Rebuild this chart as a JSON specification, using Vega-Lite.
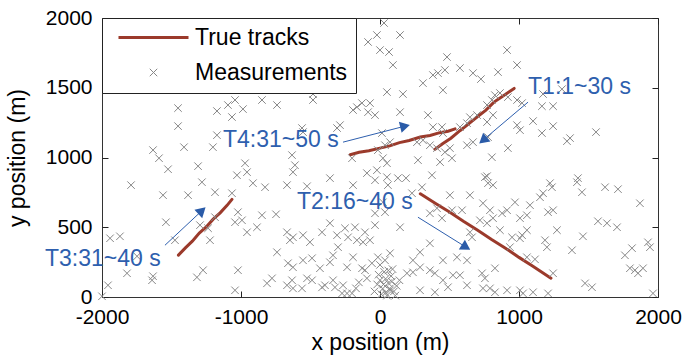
{
  "$schema": "https://vega.github.io/schema/vega-lite/v6.json",
  "width": 556,
  "height": 279,
  "autosize": {"type": "none"},
  "padding": {"left": 102, "top": 18, "right": 26, "bottom": 61},
  "background": "white",
  "config": {
    "font": "Liberation Sans",
    "view": {"stroke": "#333333", "strokeWidth": 1},
    "axis": {
      "grid": false, "domain": false, "ticks": true, "tickColor": "#222222", "tickSize": -6, "tickWidth": 1, "zindex": 1,
      "labelFontSize": 21, "labelColor": "black", "labelFont": "Liberation Sans", "labelFlush": false,
      "titleFontSize": 23, "titleFontWeight": "normal", "titleColor": "black", "titleFont": "Liberation Sans"
    }
  },
  "datasets": {
    "meas": [
      {"x":-1187,"y":1490},{"x":-986,"y":1490},{"x":-489,"y":1483},{"x":-482,"y":1455},{"x":-1453,"y":1354},{"x":-1453,"y":1225},
      {"x":-1173,"y":1333},{"x":-1094,"y":1376},{"x":-1043,"y":1412},{"x":-1065,"y":1290},{"x":-986,"y":1347},{"x":-849,"y":1412},
      {"x":-741,"y":1376},{"x":-482,"y":1412},{"x":-194,"y":1340},{"x":-166,"y":1361},{"x":-1633,"y":1053},{"x":-1590,"y":995},
      {"x":-1525,"y":916},{"x":-1410,"y":1074},{"x":-1309,"y":938},{"x":-1202,"y":1074},{"x":-1173,"y":1160},{"x":-971,"y":959},
      {"x":-957,"y":895},{"x":-1029,"y":873},{"x":-633,"y":1017},{"x":-612,"y":945},{"x":-626,"y":895},{"x":-561,"y":1211},
      {"x":-554,"y":1182},{"x":-309,"y":1211},{"x":-360,"y":852},{"x":-201,"y":995},{"x":-1791,"y":802},{"x":-1561,"y":730},
      {"x":-1381,"y":730},{"x":-1281,"y":823},{"x":-1187,"y":751},{"x":-1065,"y":744},{"x":-1540,"y":536},{"x":-1942,"y":421},
      {"x":-1871,"y":435},{"x":-1475,"y":407},{"x":-1295,"y":515},{"x":-1237,"y":493},{"x":-1187,"y":572},{"x":-1223,"y":407},
      {"x":-1022,"y":608},{"x":-1043,"y":536},{"x":-993,"y":550},{"x":-1748,"y":292},{"x":-1820,"y":170},{"x":-1957,"y":84},
      {"x":-1633,"y":149},{"x":-1640,"y":120},{"x":-1273,"y":192},{"x":-1317,"y":141},{"x":-1022,"y":192},{"x":-1043,"y":48},
      {"x":-2000,"y":5},{"x":-914,"y":816},{"x":-827,"y":787},{"x":-669,"y":802},{"x":-525,"y":794},{"x":-194,"y":802},
      {"x":-957,"y":464},{"x":-885,"y":500},{"x":-748,"y":593},{"x":-669,"y":464},{"x":-648,"y":407},{"x":-626,"y":428},
      {"x":-554,"y":443},{"x":-504,"y":393},{"x":-417,"y":464},{"x":-360,"y":529},{"x":-252,"y":493},{"x":-230,"y":428},
      {"x":-741,"y":321},{"x":-662,"y":242},{"x":-626,"y":213},{"x":-554,"y":263},{"x":-489,"y":278},{"x":-432,"y":206},
      {"x":-360,"y":249},{"x":-338,"y":299},{"x":-194,"y":285},{"x":-237,"y":213},{"x":-813,"y":98},{"x":-669,"y":84},
      {"x":-633,"y":120},{"x":-561,"y":62},{"x":-489,"y":120},{"x":-417,"y":69},{"x":-396,"y":84},{"x":-338,"y":120},
      {"x":-266,"y":84},{"x":-237,"y":26},{"x":-849,"y":586},{"x":-309,"y":443},{"x":-180,"y":500},{"x":-166,"y":407},
      {"x":-122,"y":393},{"x":-72,"y":407},{"x":-36,"y":515},{"x":-36,"y":600},{"x":-302,"y":357},{"x":-129,"y":206},
      {"x":-108,"y":192},{"x":-15,"y":285},{"x":-58,"y":242},{"x":-777,"y":134},{"x":-525,"y":134},{"x":-626,"y":62},
      {"x":-324,"y":69},{"x":-152,"y":105},{"x":-173,"y":62},{"x":-94,"y":134},{"x":-273,"y":26},{"x":-201,"y":26},
      {"x":-94,"y":888},{"x":-36,"y":837},{"x":-22,"y":909},{"x":-22,"y":1878},{"x":-86,"y":1828},{"x":0,"y":1770},
      {"x":29,"y":1964},{"x":144,"y":1878},{"x":65,"y":1756},{"x":93,"y":1663},{"x":482,"y":1720},{"x":575,"y":1641},
      {"x":381,"y":1591},{"x":417,"y":1605},{"x":467,"y":1627},{"x":309,"y":1533},{"x":453,"y":1483},{"x":669,"y":1605},
      {"x":726,"y":1562},{"x":849,"y":1612},{"x":914,"y":1770},{"x":986,"y":1663},{"x":50,"y":1469},{"x":165,"y":1455},
      {"x":144,"y":1325},{"x":345,"y":1304},{"x":381,"y":1218},{"x":446,"y":1218},{"x":453,"y":1175},{"x":309,"y":1124},
      {"x":359,"y":1088},{"x":72,"y":1110},{"x":36,"y":1088},{"x":575,"y":1218},{"x":626,"y":1246},{"x":647,"y":1289},
      {"x":698,"y":1304},{"x":770,"y":1376},{"x":805,"y":1412},{"x":827,"y":1447},{"x":863,"y":1462},{"x":920,"y":1433},
      {"x":986,"y":1412},{"x":813,"y":1304},{"x":770,"y":1254},{"x":626,"y":1088},{"x":669,"y":1110},{"x":503,"y":1067},
      {"x":467,"y":1038},{"x":410,"y":1067},{"x":266,"y":1110},{"x":21,"y":995},{"x":50,"y":959},{"x":273,"y":981},
      {"x":432,"y":967},{"x":518,"y":995},{"x":805,"y":1002},{"x":920,"y":1067},{"x":986,"y":1232},{"x":1007,"y":1196},
      {"x":777,"y":1146},{"x":-130,"y":1390},{"x":-72,"y":1390},{"x":-86,"y":1325},{"x":-36,"y":1304},{"x":14,"y":1175},
      {"x":-15,"y":1053},{"x":-288,"y":1232},{"x":50,"y":859},{"x":129,"y":852},{"x":187,"y":852},{"x":374,"y":873},
      {"x":770,"y":866},{"x":1424,"y":852},{"x":1022,"y":1390},{"x":1173,"y":1455},{"x":1309,"y":1490},{"x":1165,"y":1368},
      {"x":1245,"y":1368},{"x":1101,"y":1261},{"x":1165,"y":1175},{"x":1245,"y":1225},{"x":1345,"y":1117},{"x":1367,"y":1139},
      {"x":1554,"y":1182},{"x":57,"y":802},{"x":230,"y":744},{"x":302,"y":787},{"x":755,"y":859},{"x":813,"y":802},
      {"x":777,"y":816},{"x":647,"y":730},{"x":503,"y":730},{"x":21,"y":679},{"x":36,"y":608},{"x":144,"y":500},
      {"x":359,"y":600},{"x":410,"y":636},{"x":446,"y":565},{"x":518,"y":622},{"x":590,"y":622},{"x":741,"y":672},
      {"x":791,"y":622},{"x":719,"y":550},{"x":770,"y":529},{"x":878,"y":600},{"x":914,"y":622},{"x":813,"y":565},
      {"x":863,"y":479},{"x":971,"y":679},{"x":647,"y":464},{"x":662,"y":428},{"x":950,"y":428},{"x":1007,"y":421},
      {"x":935,"y":357},{"x":359,"y":385},{"x":288,"y":321},{"x":72,"y":314},{"x":36,"y":263},{"x":237,"y":263},
      {"x":288,"y":213},{"x":453,"y":263},{"x":554,"y":285},{"x":626,"y":263},{"x":359,"y":192},{"x":395,"y":170},
      {"x":194,"y":170},{"x":237,"y":177},{"x":525,"y":156},{"x":575,"y":156},{"x":734,"y":170},{"x":755,"y":134},
      {"x":827,"y":206},{"x":453,"y":120},{"x":489,"y":70},{"x":395,"y":34},{"x":288,"y":48},{"x":72,"y":48},
      {"x":741,"y":62},{"x":791,"y":62},{"x":626,"y":84},{"x":827,"y":34},{"x":914,"y":48},{"x":1007,"y":48},
      {"x":-108,"y":464},
      {"x":0,"y":120},{"x":20,"y":60},{"x":40,"y":30},{"x":60,"y":100},{"x":80,"y":150},{"x":100,"y":40},
      {"x":30,"y":180},{"x":-20,"y":90},{"x":10,"y":20},{"x":50,"y":10},{"x":120,"y":80},{"x":90,"y":200},
      {"x":-40,"y":40},{"x":70,"y":60},{"x":140,"y":120},{"x":0,"y":230},{"x":40,"y":130},{"x":110,"y":10},
      {"x":-10,"y":160},{"x":60,"y":190},{"x":25,"y":90},{"x":85,"y":110},
      {"x":1223,"y":816},{"x":1237,"y":787},{"x":1173,"y":744},{"x":1417,"y":823},{"x":1453,"y":751},{"x":1619,"y":787},
      {"x":1712,"y":773},{"x":1870,"y":672},{"x":1079,"y":658},{"x":1057,"y":586},{"x":1209,"y":608},{"x":1245,"y":622},
      {"x":1568,"y":543},{"x":1633,"y":529},{"x":1705,"y":500},{"x":1273,"y":479},{"x":1057,"y":479},{"x":1022,"y":443},
      {"x":1460,"y":435},{"x":1187,"y":407},{"x":1201,"y":357},{"x":1381,"y":335},{"x":1928,"y":392},{"x":1942,"y":357},
      {"x":1813,"y":350},{"x":1762,"y":299},{"x":1057,"y":285},{"x":1115,"y":270},{"x":1245,"y":170},{"x":1798,"y":206},
      {"x":1834,"y":192},{"x":1856,"y":170},{"x":1892,"y":206},{"x":1475,"y":98},{"x":1525,"y":70},{"x":1029,"y":26},
      {"x":1101,"y":34},{"x":1209,"y":26},{"x":1964,"y":26},{"x":1151,"y":715},{"x":1007,"y":565}
    ],
    "tracks": [
      {"track":"T1","x":395,"y":1058},{"track":"T1","x":450,"y":1098},{"track":"T1","x":510,"y":1138},{"track":"T1","x":575,"y":1192},
      {"track":"T1","x":640,"y":1243},{"track":"T1","x":700,"y":1292},{"track":"T1","x":760,"y":1338},{"track":"T1","x":820,"y":1397},
      {"track":"T1","x":880,"y":1438},{"track":"T1","x":930,"y":1472},{"track":"T1","x":965,"y":1495},
      {"track":"T4","x":-215,"y":1020},{"track":"T4","x":-150,"y":1037},{"track":"T4","x":-80,"y":1048},{"track":"T4","x":0,"y":1067},
      {"track":"T4","x":70,"y":1083},{"track":"T4","x":140,"y":1107},{"track":"T4","x":210,"y":1122},{"track":"T4","x":290,"y":1147},
      {"track":"T4","x":360,"y":1158},{"track":"T4","x":430,"y":1178},{"track":"T4","x":490,"y":1188},{"track":"T4","x":540,"y":1205},
      {"track":"T2","x":290,"y":740},{"track":"T2","x":400,"y":670},{"track":"T2","x":500,"y":609},{"track":"T2","x":600,"y":543},
      {"track":"T2","x":700,"y":481},{"track":"T2","x":800,"y":414},{"track":"T2","x":900,"y":352},{"track":"T2","x":1000,"y":284},
      {"track":"T2","x":1100,"y":221},{"track":"T2","x":1230,"y":135},
      {"track":"T3","x":-1450,"y":300},{"track":"T3","x":-1400,"y":352},{"track":"T3","x":-1350,"y":400},{"track":"T3","x":-1300,"y":458},
      {"track":"T3","x":-1250,"y":502},{"track":"T3","x":-1200,"y":558},{"track":"T3","x":-1150,"y":603},{"track":"T3","x":-1100,"y":657},
      {"track":"T3","x":-1065,"y":700}
    ],
    "arrows": [
      {"x":1065,"y":1397,"x2":741,"y2":1124},
      {"x":-266,"y":1110,"x2":180,"y2":1225},
      {"x":273,"y":572,"x2":619,"y2":357},
      {"x":-1547,"y":371,"x2":-1281,"y2":619}
    ],
    "notes": [
      {"label":"T1:1~30 s","x":1065,"y":1505},
      {"label":"T4:31~50 s","x":-1130,"y":1124},
      {"label":"T2:16~40 s","x":-597,"y":680},
      {"label":"T3:31~40 s","x":-2410,"y":271}
    ]
  },
  "layer": [
    {
      "encoding": {
        "x": {"field": "x", "type": "quantitative", "scale": {"domain": [-2000, 2000], "nice": false, "zero": false},
              "axis": {"orient": "bottom", "labelPadding": 15, "values": [-2000, -1000, 0, 1000, 2000], "title": "x position (m)", "titlePadding": 4,
                       "labelExpr": "datum.value < 0 ? '-' + abs(datum.value) : '' + datum.value"}},
        "y": {"field": "y", "type": "quantitative", "scale": {"domain": [0, 2000], "nice": false, "zero": false},
              "axis": {"orient": "left", "labelPadding": 16, "values": [0, 500, 1000, 1500, 2000], "title": "y position (m)", "format": "d", "titlePadding": 16}}
      },
      "layer": [
        {
          "data": {"name": "tracks"},
          "mark": {"type": "line", "strokeWidth": 3, "strokeCap": "round"},
          "encoding": {
            "detail": {"field": "track"},
            "color": {
              "datum": "True tracks", "type": "nominal",
              "scale": {"domain": ["True tracks", "Measurements"], "range": ["#9b3a2b", "#878787"]},
              "legend": {
                "title": null, "orient": "top-left", "offset": 0, "fillColor": "white", "strokeColor": "#222222",
                "padding": 8, "rowPadding": 11, "labelFontSize": 23, "labelFont": "Liberation Sans", "labelColor": "black",
                "symbolSize": 196, "symbolOffset": 32, "labelOffset": 30, "zindex": 2,
                "encode": {
                  "symbols": {
                    "update": {
                      "shape": {"signal": "datum.value === 'True tracks' ? 'M-5,0L5,0' : 'M-1,-1L1,1M-1,1L1,-1'"},
                      "size": {"signal": "datum.value === 'True tracks' ? 196 : 56"},
                      "strokeWidth": {"signal": "datum.value === 'True tracks' ? 3 : 1"},
                      "fill": {"value": "transparent"},
                      "stroke": {"signal": "datum.value === 'True tracks' ? '#9b3a2b' : '#878787'"}
                    }
                  }
                }
              }
            }
          }
        },
        {
          "data": {"name": "meas"},
          "mark": {"type": "point", "shape": "M-1,-1L1,1M-1,1L1,-1", "filled": false, "size": 56, "strokeWidth": 1, "opacity": 1},
          "encoding": {"color": {"datum": "Measurements", "type": "nominal"}}
        },
        {
          "data": {"name": "arrows"},
          "mark": {"type": "rule", "color": "#2e5fae", "strokeWidth": 1},
          "encoding": {"x2": {"field": "x2"}, "y2": {"field": "y2"}}
        },
        {
          "data": {"values": [{"x": 741, "y": 1124}]},
          "mark": {"type": "point", "shape": "triangle-up", "filled": true, "size": 130, "angle": 230, "color": "#2a5ba8", "opacity": 1},
          "encoding": {}
        },
        {
          "data": {"values": [{"x": 180, "y": 1225}]},
          "mark": {"type": "point", "shape": "triangle-up", "filled": true, "size": 130, "angle": 76, "color": "#2a5ba8", "opacity": 1},
          "encoding": {}
        },
        {
          "data": {"values": [{"x": 619, "y": 357}]},
          "mark": {"type": "point", "shape": "triangle-up", "filled": true, "size": 130, "angle": 122, "color": "#2a5ba8", "opacity": 1},
          "encoding": {}
        },
        {
          "data": {"values": [{"x": -1281, "y": 619}]},
          "mark": {"type": "point", "shape": "triangle-up", "filled": true, "size": 130, "angle": 47, "color": "#2a5ba8", "opacity": 1},
          "encoding": {}
        },
        {
          "data": {"name": "notes"},
          "mark": {"type": "text", "align": "left", "baseline": "middle", "fontSize": 23, "font": "Liberation Sans", "color": "#2e5fae"},
          "encoding": {"text": {"field": "label"}}
        }
      ]
    },
    {
      "data": {"name": "notes"},
      "mark": {"type": "point", "opacity": 0},
      "encoding": {
        "x": {"field": "x", "type": "quantitative", "scale": {"domain": [-2000, 2000], "nice": false, "zero": false},
              "axis": {"orient": "top", "values": [-2000, -1000, 0, 1000, 2000], "labels": false, "title": null}},
        "y": {"field": "y", "type": "quantitative", "scale": {"domain": [0, 2000], "nice": false, "zero": false},
              "axis": {"orient": "right", "values": [0, 500, 1000, 1500, 2000], "labels": false, "title": null}}
      }
    }
  ],
  "resolve": {"axis": {"x": "independent", "y": "independent"}}
}
